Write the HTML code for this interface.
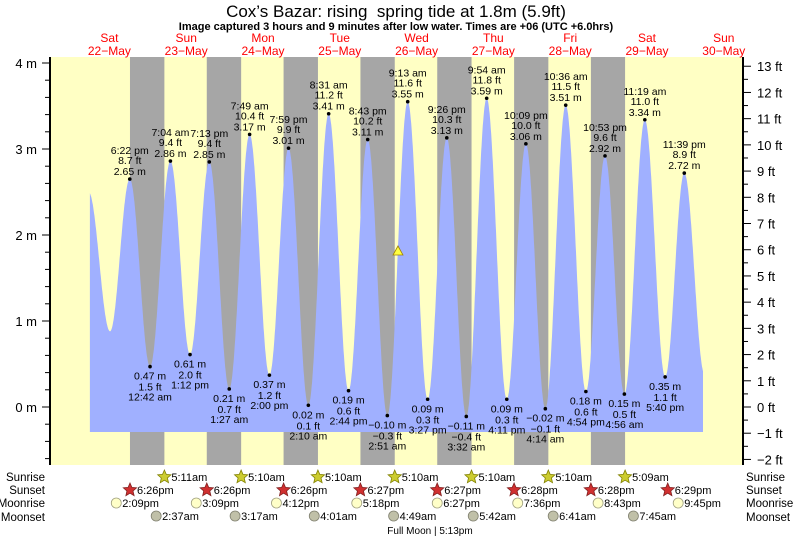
<!DOCTYPE html>
<html><head><meta charset="utf-8"><style>
body{margin:0;background:#fff}
svg{display:block;font-family:"Liberation Sans",sans-serif}
</style></head><body>
<svg id="s" width="793" height="539" xmlns="http://www.w3.org/2000/svg"></svg>
<script>
var S=document.getElementById('s'),o='';
function X(t){return 71+3.2*t}
function Y(m){return 407-86*m}
function txt(x,y,s,a,sz,c,w){o+='<text x="'+x+'" y="'+y+'" font-size="'+(sz||11)+'" text-anchor="'+(a||'middle')+'" fill="'+(c||'#000')+'"'+(w?' font-weight="bold"':'')+'>'+s+'</text>';}
o+='<rect x="50" y="57" width="693" height="408" fill="#ffffc4"/>';
var sr=[5.18,5.17,5.17,5.17,5.17,5.17,5.15],ss=[18.43,18.43,18.43,18.45,18.45,18.47,18.47,18.48];
for(var d=0;d<7;d++){var a=X(d*24+ss[d]),b=X((d+1)*24+sr[d]);o+='<rect x="'+a+'" y="57" width="'+(b-a)+'" height="408" fill="#a6a6a6"/>';}
var E=[[5.5,2.5],[12.2,0.88],[18.37,2.65],[24.7,0.47],[31.07,2.86],[37.2,0.61],[43.22,2.85],[49.45,0.21],[55.82,3.17],[62,0.37],[67.98,3.01],[74.17,0.02],[80.52,3.41],[86.73,0.19],[92.72,3.11],[98.85,-0.10],[105.22,3.55],[111.45,0.09],[117.43,3.13],[123.53,-0.11],[129.9,3.59],[136.18,0.09],[142.15,3.06],[148.23,-0.02],[154.6,3.51],[160.9,0.18],[166.88,2.92],[172.93,0.15],[179.32,3.34],[185.67,0.35],[191.65,2.72],[198,0.38]];
function h(t){for(var i=0;i<E.length-1;i++){if(t>=E[i][0]&&t<=E[i+1][0]){var f=(t-E[i][0])/(E[i+1][0]-E[i][0]);return E[i][1]+(E[i+1][1]-E[i][1])*(1-Math.cos(Math.PI*f))/2;}}return E[E.length-1][1];}
var t0=5.9,t1=197.5,p='M'+X(t0)+',432';
for(var t=t0;t<=t1;t+=0.1)p+=' L'+X(t).toFixed(1)+','+Y(h(t)).toFixed(1);
p+=' L'+X(t1)+','+Y(h(t1)).toFixed(1)+' L'+X(t1)+',432Z';
o+='<path d="'+p+'" fill="#a0b0ff"/>';
var L=[['6:22 pm','8.7 ft'],['12:42 am','1.5 ft'],['7:04 am','9.4 ft'],['1:12 pm','2.0 ft'],['7:13 pm','9.4 ft'],['1:27 am','0.7 ft'],['7:49 am','10.4 ft'],['2:00 pm','1.2 ft'],['7:59 pm','9.9 ft'],['2:10 am','0.1 ft'],['8:31 am','11.2 ft'],['2:44 pm','0.6 ft'],['8:43 pm','10.2 ft'],['2:51 am','\u22120.3 ft'],['9:13 am','11.6 ft'],['3:27 pm','0.3 ft'],['9:26 pm','10.3 ft'],['3:32 am','\u22120.4 ft'],['9:54 am','11.8 ft'],['4:11 pm','0.3 ft'],['10:09 pm','10.0 ft'],['4:14 am','\u22120.1 ft'],['10:36 am','11.5 ft'],['4:54 pm','0.6 ft'],['10:53 pm','9.6 ft'],['4:56 am','0.5 ft'],['11:19 am','11.0 ft'],['5:40 pm','1.1 ft'],['11:39 pm','8.9 ft']];
for(var i=2;i<E.length-1;i++){var e=E[i],l=L[i-2],x=X(e[0]),y=Y(e[1]),ms=(e[1]<0?'\u2212'+(-e[1]).toFixed(2):e[1].toFixed(2))+' m';
o+='<circle cx="'+x+'" cy="'+y+'" r="1.8" fill="#000"/>';
if(i%2==0){txt(x,y-4,ms,'middle',10.5);txt(x,y-15,l[1],'middle',10.5);txt(x,y-25,l[0],'middle',10.5);}
else{txt(x,y+13,ms,'middle',10.5);txt(x,y+24,l[1],'middle',10.5);txt(x,y+34,l[0],'middle',10.5);}}
o+='<polygon points="398,246 393,255 403,255" fill="#ffff40" stroke="#a08000" stroke-width="0.8"/>';
o+='<line x1="50" y1="57" x2="50" y2="465" stroke="#000" stroke-width="2"/><line x1="743" y1="57" x2="743" y2="465" stroke="#000" stroke-width="2"/>';
for(var m=-0.6;m<=4.01;m+=0.2){var y=Y(m),mj=Math.abs(m-Math.round(m))<0.01;if(y<57)continue;o+='<line x1="'+(mj?42:45)+'" y1="'+y+'" x2="50" y2="'+y+'" stroke="#000"/>';if(mj)txt(37,y+5,Math.round(m)+' m','end',13);}
for(var f=-2;f<=13.01;f+=0.5){var y=Y(f*0.3048),mj=f%1==0;o+='<line x1="743" y1="'+y+'" x2="'+(mj?751:748)+'" y2="'+y+'" stroke="#000"/>';if(mj)txt(757,y+5,(f<0?'\u2212'+(-f):f)+' ft','start',13);}
txt(396,17,"Cox\u2019s Bazar: rising&#160; spring tide at 1.8m (5.9ft)",'middle',17);
txt(396,30,"Image captured 3 hours and 9 minutes after low water. Times are +06 (UTC +6.0hrs)",'middle',11,'#000',1);
var dn=['Sat','Sun','Mon','Tue','Wed','Thu','Fri','Sat','Sun'];
for(var d=0;d<9;d++){var x=X(d*24+12);txt(x,42,dn[d],'middle',12,'#f00');txt(x,55,(22+d)+'\u2212May','middle',12,'#f00');}
var rows=['Sunrise','Sunset','Moonrise','Moonset'],ry=[481,494,507,521];
for(var r=0;r<4;r++){txt(45,ry[r],rows[r],'end',11.5);txt(746,ry[r],rows[r],'start',11.5);}
function star(cx,cy,f,st){var q='';for(var k=0;k<10;k++){var a=-Math.PI/2+k*Math.PI/5,rr=k%2?3.2:7;q+=(cx+rr*Math.cos(a)).toFixed(1)+','+(cy+rr*Math.sin(a)).toFixed(1)+' ';}o+='<polygon points="'+q+'" fill="'+f+'" stroke="'+st+'" stroke-width="0.8"/>';}
var srt=['5:11am','5:10am','5:10am','5:10am','5:10am','5:10am','5:09am'];
for(var d=0;d<7;d++){var x=X((d+1)*24+sr[d]);star(x,477,'#cccc30','#808000');txt(x+7,481,srt[d],'start',11);}
var sst=['6:26pm','6:26pm','6:26pm','6:27pm','6:27pm','6:28pm','6:28pm','6:29pm'];
for(var d=0;d<8;d++){var x=X(d*24+ss[d]);star(x,490,'#d03030','#802020');txt(x+7,494,sst[d],'start',11);}
var mr=[[14.15,'2:09pm'],[15.15,'3:09pm'],[16.2,'4:12pm'],[17.3,'5:18pm'],[18.45,'6:27pm'],[19.6,'7:36pm'],[20.72,'8:43pm'],[21.75,'9:45pm']];
for(var d=0;d<8;d++){var x=X(d*24+mr[d][0]);o+='<circle cx="'+x+'" cy="503" r="5" fill="#ffffc8" stroke="#a0a080" stroke-width="0.8"/>';txt(x+6,507,mr[d][1],'start',11);}
var ms2=[[2.62,'2:37am'],[3.28,'3:17am'],[4.02,'4:01am'],[4.82,'4:49am'],[5.7,'5:42am'],[6.68,'6:41am'],[7.75,'7:45am']];
for(var d=0;d<7;d++){var x=X((d+1)*24+ms2[d][0]);o+='<circle cx="'+x+'" cy="516" r="5" fill="#c0c0a8" stroke="#808070" stroke-width="0.8"/>';txt(x+6,520,ms2[d][1],'start',11);}
txt(430,534,'Full Moon | 5:13pm','middle',10);
S.innerHTML=o;
</script>
</body></html>
